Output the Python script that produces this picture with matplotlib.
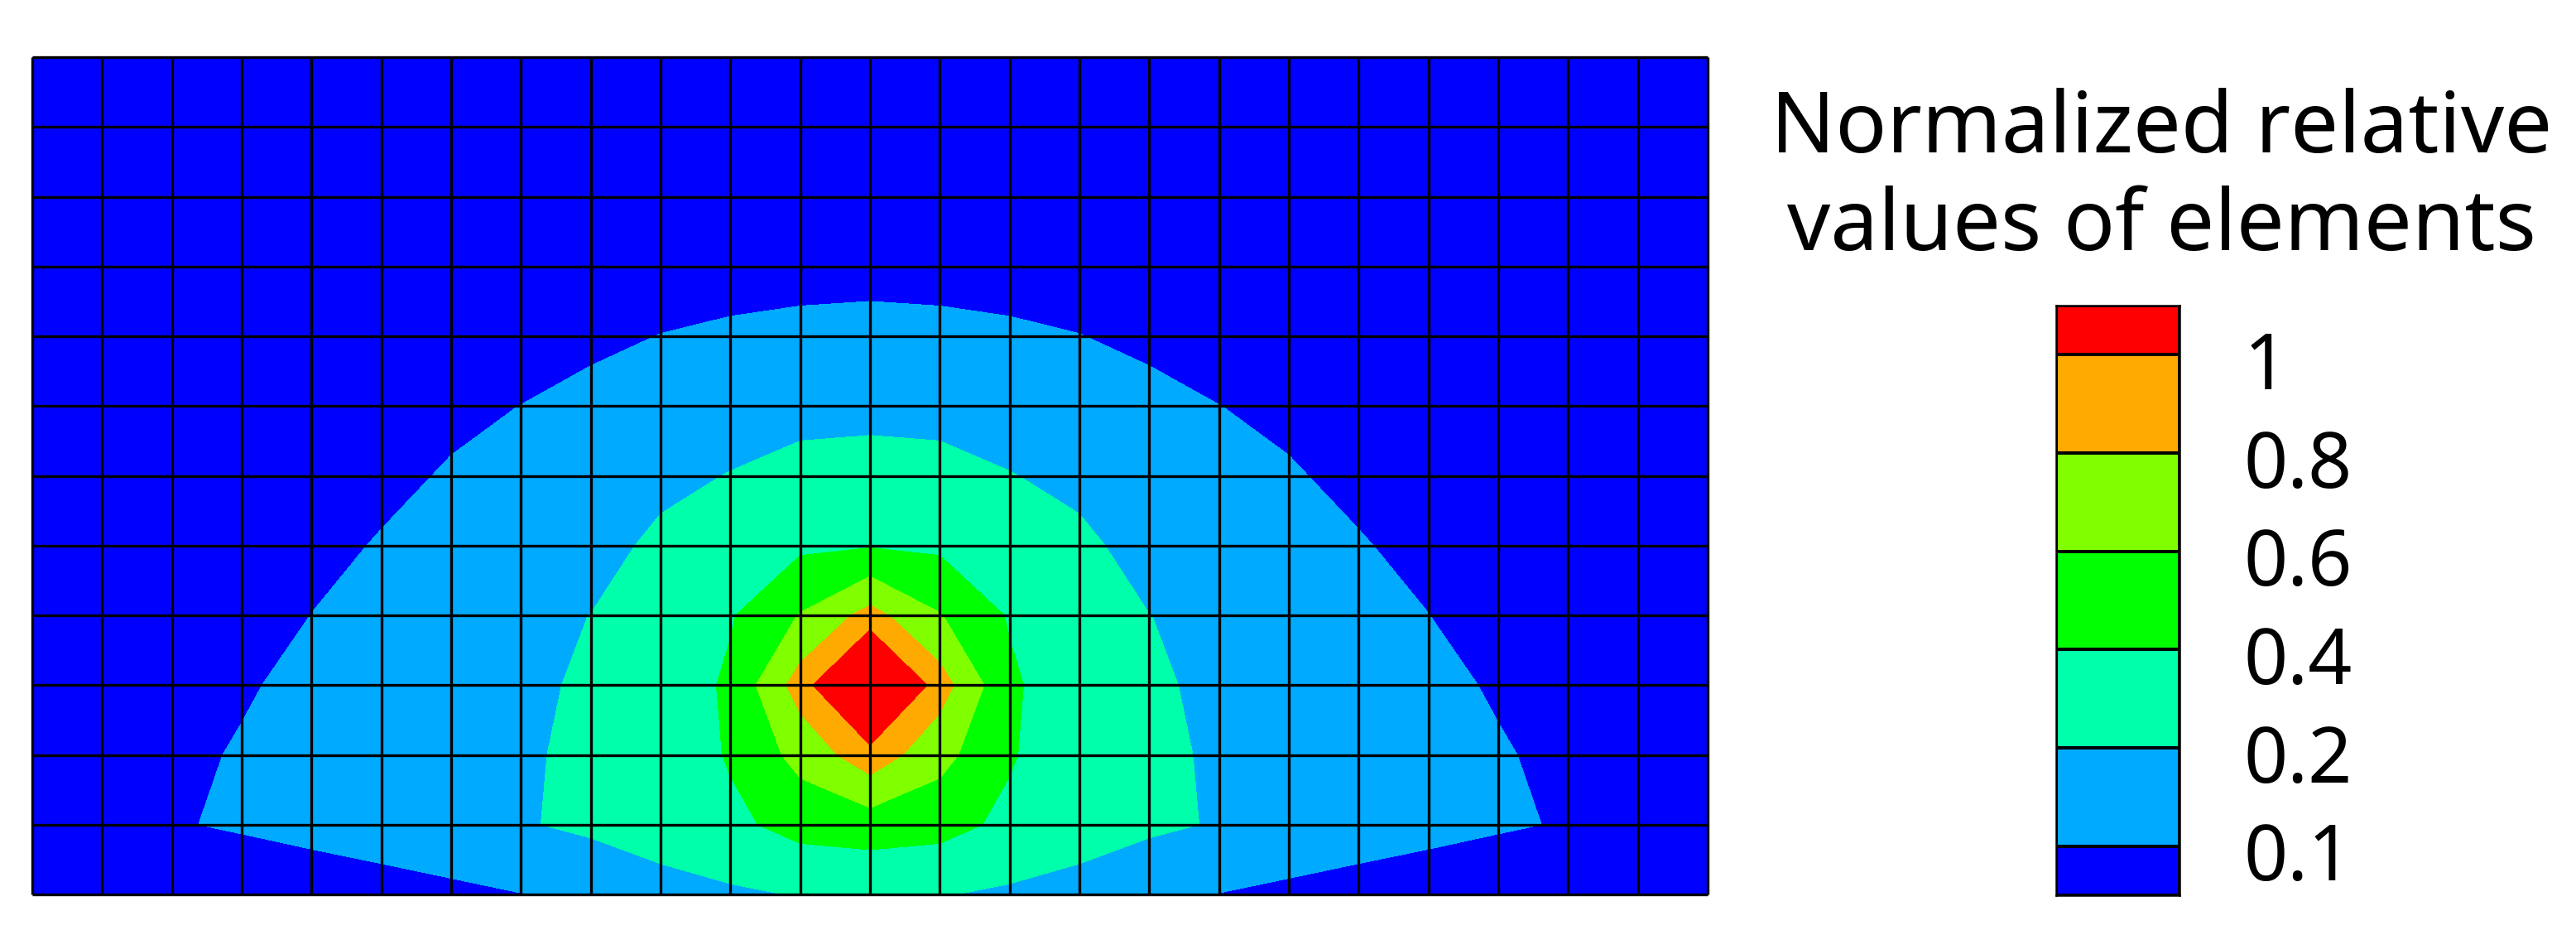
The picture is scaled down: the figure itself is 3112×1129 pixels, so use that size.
import matplotlib.pyplot as plt
from matplotlib.colors import ListedColormap
import numpy as np

plt.rcParams['font.family'] = ['Noto Sans', 'DejaVu Sans']

# nodal values of the 24 x 12 element mesh, top row (y = 12) first
node_rows = [
    [0.0, 0.005, 0.01, 0.015, 0.02, 0.024, 0.028, 0.031, 0.034, 0.036, 0.038, 0.039, 0.04,
     0.039, 0.038, 0.036, 0.034, 0.031, 0.028, 0.024, 0.02, 0.015, 0.01, 0.005, 0.0],
    [0.0, 0.007, 0.013, 0.019, 0.024, 0.029, 0.034, 0.038, 0.041, 0.044, 0.046, 0.048, 0.049,
     0.048, 0.046, 0.044, 0.041, 0.038, 0.034, 0.029, 0.024, 0.019, 0.013, 0.007, 0.0],
    [0.005, 0.01, 0.017, 0.024, 0.03, 0.036, 0.042, 0.048, 0.053, 0.057, 0.06, 0.062, 0.063,
     0.062, 0.06, 0.057, 0.053, 0.048, 0.042, 0.036, 0.03, 0.024, 0.017, 0.01, 0.005],
    [0.008, 0.014, 0.021, 0.029, 0.036, 0.044, 0.052, 0.06, 0.067, 0.075, 0.08, 0.083, 0.085,
     0.083, 0.08, 0.075, 0.067, 0.06, 0.052, 0.044, 0.036, 0.029, 0.021, 0.014, 0.008],
    [0.012, 0.018, 0.026, 0.035, 0.044, 0.053, 0.063, 0.075, 0.089, 0.101, 0.108, 0.113, 0.115,
     0.113, 0.108, 0.101, 0.089, 0.075, 0.063, 0.053, 0.044, 0.035, 0.026, 0.018, 0.012],
    [0.016, 0.024, 0.034, 0.045, 0.058, 0.074, 0.088, 0.1005, 0.115, 0.13, 0.14, 0.155, 0.16,
     0.155, 0.14, 0.13, 0.115, 0.1005, 0.088, 0.074, 0.058, 0.045, 0.034, 0.024, 0.016],
    [0.02, 0.03, 0.042, 0.055, 0.07, 0.087, 0.105, 0.125, 0.145, 0.17, 0.2045, 0.245, 0.255,
     0.245, 0.2045, 0.17, 0.145, 0.125, 0.105, 0.087, 0.07, 0.055, 0.042, 0.03, 0.02],
    [0.026, 0.038, 0.052, 0.068, 0.085, 0.104, 0.12, 0.139, 0.157, 0.225, 0.29, 0.365, 0.385,
     0.365, 0.29, 0.225, 0.157, 0.139, 0.12, 0.104, 0.085, 0.068, 0.052, 0.038, 0.026],
    [0.03, 0.045, 0.06, 0.075, 0.1005, 0.125, 0.15, 0.175, 0.201, 0.255, 0.383, 0.61, 0.87,
     0.61, 0.383, 0.255, 0.201, 0.175, 0.15, 0.125, 0.1005, 0.075, 0.06, 0.045, 0.03],
    [0.04, 0.055, 0.072, 0.093, 0.117, 0.14, 0.163, 0.186, 0.21, 0.268, 0.433, 0.89, 1.5,
     0.89, 0.433, 0.268, 0.21, 0.186, 0.163, 0.14, 0.117, 0.093, 0.072, 0.055, 0.04],
    [0.045, 0.063, 0.084, 0.106, 0.127, 0.148, 0.17, 0.191, 0.215, 0.25, 0.42, 0.665, 0.92,
     0.665, 0.42, 0.25, 0.215, 0.191, 0.17, 0.148, 0.127, 0.106, 0.084, 0.063, 0.045],
    [0.05, 0.07, 0.092, 0.113, 0.133, 0.153, 0.173, 0.192, 0.22, 0.27, 0.355, 0.47, 0.498,
     0.47, 0.355, 0.27, 0.22, 0.192, 0.173, 0.153, 0.133, 0.113, 0.092, 0.07, 0.05],
    [0.0, 0.0, 0.005, 0.015, 0.039, 0.058, 0.078, 0.098, 0.115, 0.145, 0.172, 0.209, 0.226,
     0.209, 0.172, 0.145, 0.115, 0.098, 0.078, 0.058, 0.039, 0.015, 0.005, 0.0, 0.0],
]

levels = [0.1, 0.2, 0.4, 0.6, 0.8, 1.0]
level_labels = ['0.1', '0.2', '0.4', '0.6', '0.8', '1']
band_colors = ['#0000ff', '#00aaff', '#00ffaa', '#00ff00', '#80ff00', '#ffaa00', '#ff0000']
title_lines = ['Normalized relative', 'values of elements']

W, H = 3112, 1129
values = np.array(node_rows)[::-1]
ny, nx = values.shape
x = np.arange(nx)
y = np.arange(ny)

fig = plt.figure(figsize=(W / 100, H / 100), dpi=100)

# contour map with the element mesh on top
ax = fig.add_axes([39 / W, 49 / H, 2024 / W, 1011 / H])
ax.contourf(x, y, values, levels=[-1] + levels + [10], colors=band_colors)
ax.vlines(x, 0, ny - 1, colors='k', lw=2.4, clip_on=False)
ax.hlines(y, 0, nx - 1, colors='k', lw=2.4, clip_on=False)
ax.set_xlim(0, nx - 1)
ax.set_ylim(0, ny - 1)
ax.axis('off')

# legend bar: end bands are half height
cax = fig.add_axes([2484 / W, 48 / H, 149 / W, 712 / H])
edges = np.array([0] + [i + 0.5 for i in range(len(levels))] + [len(levels)])
cax.pcolormesh([0, 1], edges, np.arange(len(band_colors)).reshape(-1, 1),
               cmap=ListedColormap(band_colors), edgecolors='k', linewidth=1.5)
cax.set_xlim(0, 1)
cax.set_ylim(0, len(levels))
cax.set_xticks([])
cax.set_yticks([])
for s in cax.spines.values():
    s.set_linewidth(1.8)

for lab, e in zip(level_labels, edges[1:-1]):
    cax.text(1.52, e - 0.145, lab, fontsize=67, ha='left', va='center')

fig.text(2611 / W, 1 - 184 / H, title_lines[0], fontsize=74, ha='center', va='baseline')
fig.text(2611 / W, 1 - 302 / H, title_lines[1], fontsize=74, ha='center', va='baseline')

fig.savefig('out.png', dpi=100)
